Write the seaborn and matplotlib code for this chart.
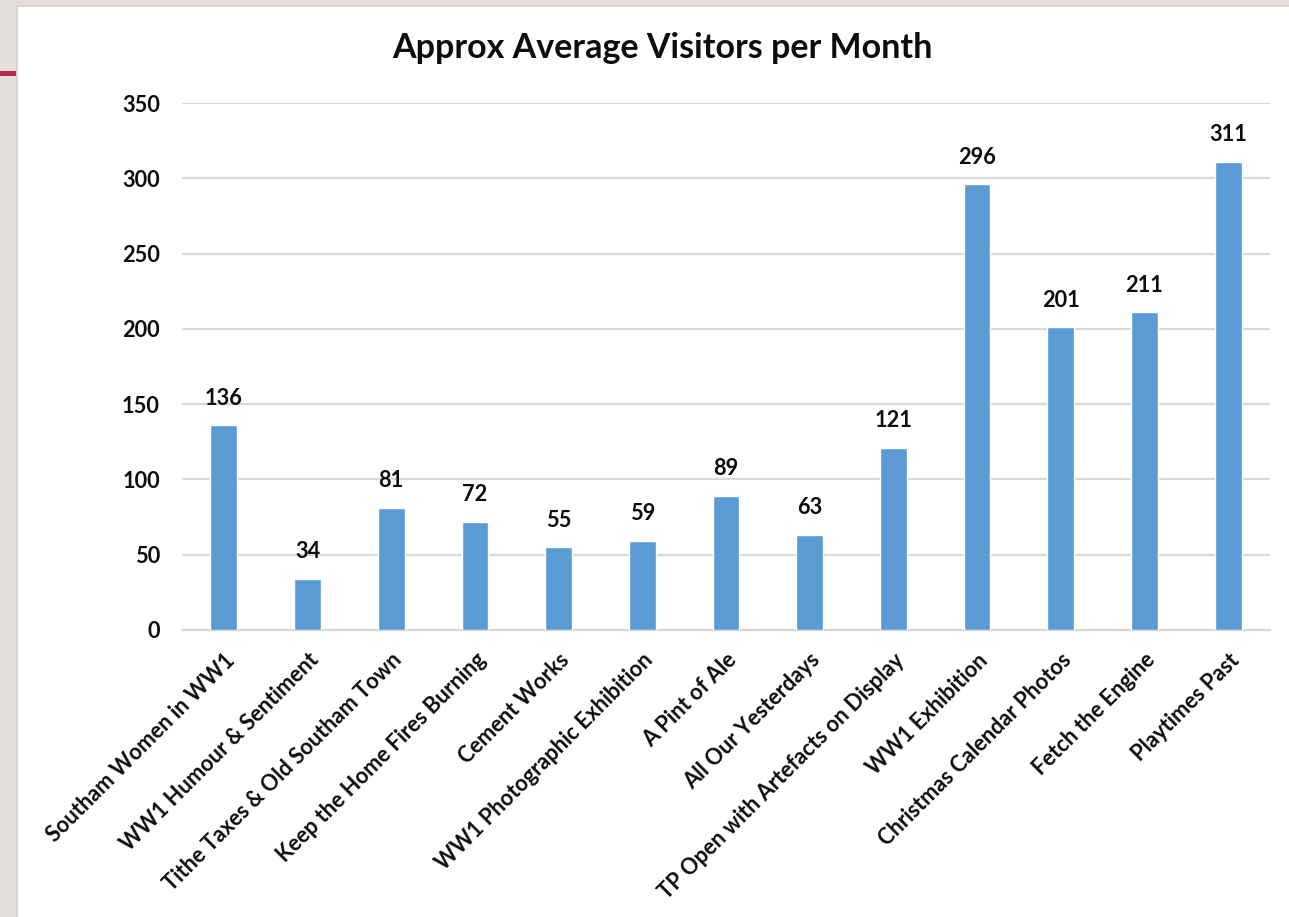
import matplotlib
matplotlib.use("Agg")
import matplotlib.pyplot as plt
import seaborn as sns
import pandas as pd
from matplotlib.patches import Rectangle

# chart data
exhibitions = [
    "Southam Women in WW1", "WW1 Humour & Sentiment", "Tithe Taxes & Old Southam Town",
    "Keep the Home Fires Burning", "Cement Works", "WW1 Photographic Exhibition",
    "A Pint of Ale", "All Our Yesterdays", "TP Open with Artefacts on Display",
    "WW1 Exhibition", "Christmas Calendar Photos", "Fetch the Engine", "Playtimes Past",
]
visitors = [136, 34, 81, 72, 55, 59, 89, 63, 121, 296, 201, 211, 311]
y_ticks = [0, 50, 100, 150, 200, 250, 300, 350]

df = pd.DataFrame({"exhibition": exhibitions, "visitors": visitors})

sns.set_theme(style="white")
plt.rcParams["font.family"] = ["Lato", "DejaVu Sans"]

fig = plt.figure(figsize=(12.89, 9.17), dpi=100)
fig.patch.set_facecolor("#E3E0DB")

# white slide panel + red accent line
fig.patches.append(Rectangle((17 / 1289, -0.01), 1.0, 1 - 6 / 917 + 0.01,
                             transform=fig.transFigure, facecolor="white",
                             edgecolor="#D4D1CC", linewidth=1.2, zorder=0))
fig.patches.append(Rectangle((0, 1 - 76 / 917), 16 / 1289, 5 / 917,
                             transform=fig.transFigure, facecolor="#C0254E",
                             edgecolor="none", zorder=1))

ax = fig.add_axes([182 / 1289, 1 - 630 / 917, (1270 - 182) / 1289, (630 - 103) / 917])
ax.set_facecolor("none")
ax.set_zorder(5)

sns.barplot(data=df, x="exhibition", y="visitors", color="#5B9BD5",
            saturation=1, width=0.32, ax=ax, zorder=3)

ax.set_ylim(0, 350)
ax.set_yticks(y_ticks)
ax.set_xlim(-0.5, len(exhibitions) - 0.5)
ax.yaxis.grid(True, color="#D9D9D9", linewidth=1.6, zorder=0)
ax.set_axisbelow(True)
for s in ["top", "right", "left"]:
    ax.spines[s].set_visible(False)
ax.spines["bottom"].set_color("#D9D9D9")
ax.spines["bottom"].set_linewidth(1.6)
ax.tick_params(axis="both", length=0)
ax.tick_params(axis="y", pad=16)
ax.set_xlabel("")
ax.set_ylabel("")

txt = "#0D0D0D"
for lbl in ax.get_yticklabels():
    lbl.set_fontsize(15.7)
    lbl.set_fontweight("bold")
    lbl.set_color(txt)
ax.set_xticks(range(len(exhibitions)))
ax.set_xticklabels(exhibitions, rotation=45, ha="right", rotation_mode="anchor",
                   fontsize=15.7, fontweight="bold", color=txt)
ax.tick_params(axis="x", pad=14)

for i, v in enumerate(visitors):
    ax.annotate(str(v), (i, v), xytext=(0, 12), textcoords="offset points",
                ha="center", va="bottom", fontsize=15.7, fontweight="bold", color=txt)

fig.text(662 / 1289, 1 - 48 / 917, "Approx Average Visitors per Month",
         ha="center", va="center", fontsize=24.5, fontweight="bold", color=txt)

fig.savefig("out.png", dpi=100, facecolor=fig.get_facecolor())
